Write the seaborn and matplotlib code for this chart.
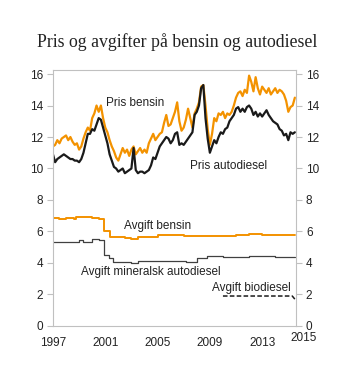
import numpy as np
import pandas as pd
import matplotlib
matplotlib.use("Agg")
import matplotlib.pyplot as plt
import seaborn as sns

# bimonthly prices (Jan, Mar, May, Jul, Sep, Nov), 1997 - Jul 2015
dates = pd.date_range("1997-01-01", "2015-07-01", freq="2MS")
pris_bensin = [
    11.4, 11.5, 11.8, 11.6, 11.9, 12.0,
    12.1, 11.8, 12.0, 11.7, 11.5, 11.6,
    11.2, 11.4, 11.9, 12.3, 12.6, 12.4,
    13.2, 13.5, 14.0, 13.6, 14.0, 13.2,
    12.6, 12.3, 11.8, 11.4, 11.1, 10.7,
    10.5, 10.9, 11.3, 11.0, 11.2, 10.8,
    11.2, 11.4, 10.9, 11.1, 11.3, 11.0,
    11.2, 11.0, 11.6, 11.9, 12.2, 11.8,
    12.0, 12.2, 12.3, 12.9, 13.4, 12.7,
    12.8, 13.2, 13.6, 14.2, 13.0, 12.4,
    12.6, 13.1, 13.8, 13.2, 12.6, 13.5,
    13.8, 14.2, 15.2, 15.3, 14.0, 12.5,
    11.5, 12.2, 13.2, 13.0, 13.5, 13.4,
    13.6, 13.2, 13.5, 13.4, 13.6, 14.0,
    14.5, 14.8, 14.9, 14.6, 15.0, 14.8,
    15.9, 15.5, 14.9, 15.8, 15.1, 14.7,
    15.2, 15.0, 14.8, 15.1, 14.7, 14.9,
    15.1, 14.8, 15.0, 14.9, 14.7, 14.3,
    13.6, 13.9, 14.0, 14.5,
]
pris_diesel = [
    10.9, 10.4, 10.6, 10.7, 10.8, 10.9,
    10.8, 10.7, 10.6, 10.6, 10.5, 10.5,
    10.4, 10.6, 11.0, 11.6, 12.2, 12.2,
    12.5, 12.4, 12.8, 13.2, 13.1, 12.6,
    12.1, 11.6, 10.9, 10.5, 10.1, 10.0,
    9.8, 9.9, 10.0, 9.7, 9.8, 9.9,
    10.0, 11.3, 9.9, 9.7, 9.8, 9.8,
    9.7, 9.8, 9.9, 10.2, 10.7, 10.6,
    11.0, 11.4, 11.6, 11.8, 12.0, 11.9,
    11.6, 11.8, 12.2, 12.3, 11.5, 11.6,
    11.5, 11.7, 11.9, 12.1, 12.3, 13.4,
    13.6, 14.0, 15.1, 15.3, 13.2, 11.9,
    11.0, 11.4, 11.8, 11.6, 12.0, 12.3,
    12.2, 12.5, 12.6, 13.0, 13.2, 13.4,
    13.8, 13.9, 13.6, 13.8, 13.6, 13.9,
    14.0, 13.8, 13.4, 13.6, 13.3, 13.5,
    13.3, 13.5, 13.7, 13.4, 13.2, 13.0,
    12.9, 12.8, 12.5, 12.4, 12.1, 12.2,
    11.8, 12.3, 12.2, 12.3,
]

# tax levels, given at the time they change
avg_bensin_t = [1997.0, 1997.5, 1998.0, 1998.6, 1998.8, 1999.5, 2000.0, 2000.5, 2000.9,
                2001.4, 2002.5, 2003.0, 2003.5, 2005.0, 2007.0, 2009.0, 2011.0, 2012.0,
                2013.0, 2014.0, 2015.5]
avg_bensin = [6.85, 6.80, 6.85, 6.80, 6.95, 6.90, 6.85, 6.80, 6.0,
              5.65, 5.6, 5.55, 5.65, 5.75, 5.72, 5.7, 5.8, 5.85,
              5.8, 5.75, 5.75]
avg_diesel_t = [1997.0, 1997.8, 1998.5, 1999.0, 1999.3, 2000.0, 2000.5, 2000.9, 2001.3,
                2001.6, 2003.0, 2003.5, 2005.0, 2006.0, 2007.2, 2008.0, 2008.8, 2010.0,
                2012.0, 2014.0, 2015.5]
avg_diesel = [5.35, 5.3, 5.35, 5.45, 5.35, 5.5, 5.45, 4.5, 4.3,
              4.05, 4.0, 4.1, 4.15, 4.1, 4.05, 4.3, 4.45, 4.4,
              4.45, 4.4, 4.4]
avg_bio_t = [2010.0, 2015.3, 2015.5]
avg_bio = [1.9, 1.9, 1.7]

orange = "#f39200"
grey = "#c0c0c0"
txt = "#222222"

sns.set_style("white")
plt.rcParams["font.family"] = ["Liberation Sans", "DejaVu Sans"]

years = dates.year + (dates.month - 1) / 12
df = pd.DataFrame({"aar": years, "bensin": pris_bensin, "diesel": pris_diesel})

fig = plt.figure(figsize=(3.53, 3.83), dpi=100)
ax = fig.add_axes([0.150, 0.149, 0.689, 0.668])

sns.lineplot(data=df, x="aar", y="bensin", color=orange, lw=1.6, ax=ax)
sns.lineplot(data=df, x="aar", y="diesel", color="#1a1a1a", lw=1.6, ax=ax)
sns.lineplot(x=avg_bensin_t, y=avg_bensin, color=orange, lw=1.4, drawstyle="steps-post", ax=ax)
sns.lineplot(x=avg_diesel_t, y=avg_diesel, color="#404040", lw=0.9, drawstyle="steps-post", ax=ax)
sns.lineplot(x=avg_bio_t, y=avg_bio, color="#1a1a1a", lw=1.1, ls=(0, (3, 1.5)), ax=ax)

ax.set_xlim(1997, 2015.6)
ax.set_ylim(0, 16.25)
ax.set_xlabel("")
ax.set_ylabel("")
ax.set_xticks([1997, 2001, 2005, 2009, 2013])
ax.set_xticks(range(1997, 2016), minor=True)
ax.set_yticks(range(0, 17, 2))
ax.tick_params(axis="both", labelsize=8.5, colors=txt, length=4, width=0.8)
ax.tick_params(axis="x", which="both", direction="out", length=3, color=grey, pad=5)
ax.tick_params(axis="y", color=grey, direction="out", left=True, right=True,
               labelleft=True, labelright=True, pad=3)
for s in ax.spines.values():
    s.set_color(grey)
    s.set_linewidth(0.8)
ax.text(1.03, -0.049, "2015", transform=ax.transAxes, fontsize=8.5, color=txt,
        ha="center", va="center")

fs = 8.5
ax.text(2003.3, 14.15, "Pris bensin", fontsize=fs, ha="center", va="center", color=txt)
ax.text(2010.45, 10.15, "Pris autodiesel", fontsize=fs, ha="center", va="center", color=txt)
ax.text(2005.0, 6.35, "Avgift bensin", fontsize=fs, ha="center", va="center", color=txt)
ax.text(2004.5, 3.43, "Avgift mineralsk autodiesel", fontsize=fs, ha="center", va="center", color=txt)
ax.text(2012.2, 2.4, "Avgift biodiesel", fontsize=fs, ha="center", va="center", color=txt)

fig.text(0.503, 0.89, "Pris og avgifter på bensin og autodiesel", ha="center", va="center",
         fontsize=12.8, family=["Liberation Serif", "DejaVu Serif"], color=txt)

fig.savefig("out.png", dpi=100)
